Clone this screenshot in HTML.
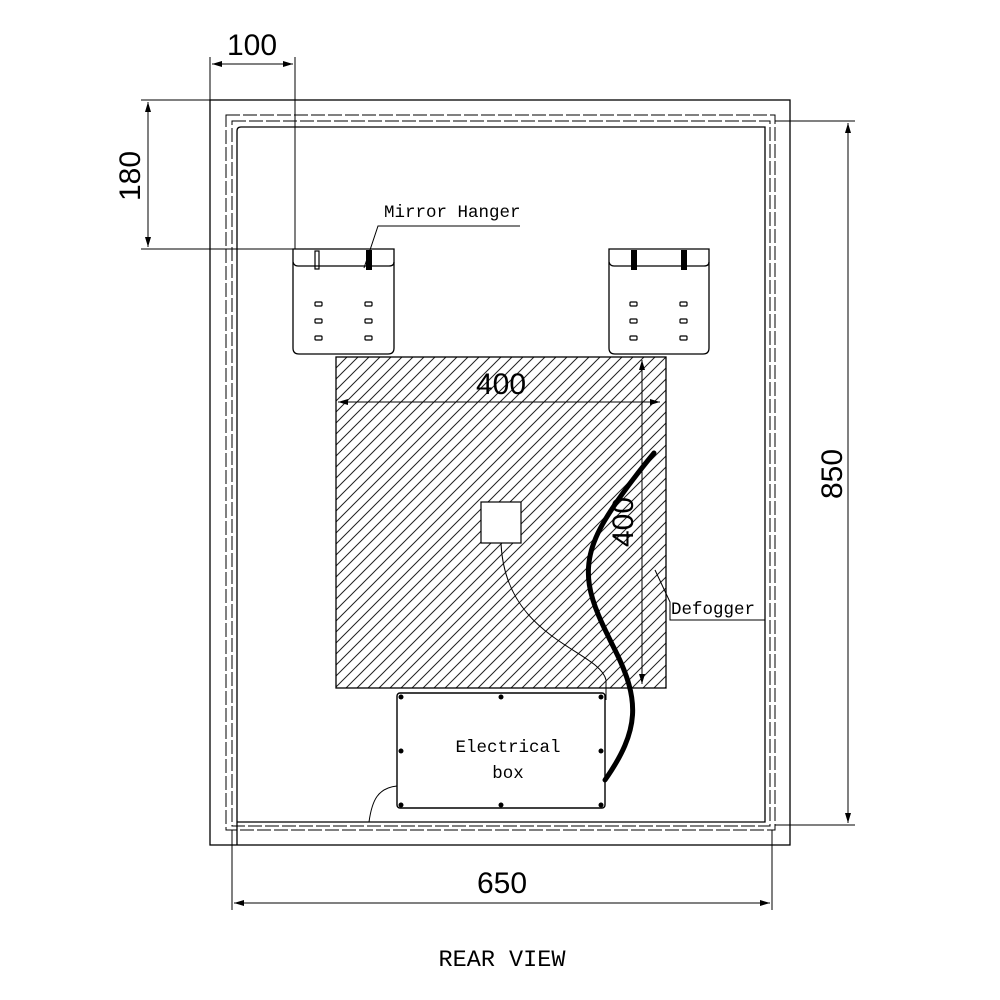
<!DOCTYPE html>
<html><head><style>body{margin:0;background:#fff}svg{display:block}</style></head><body>
<svg width="1000" height="1000" viewBox="0 0 1000 1000" xmlns="http://www.w3.org/2000/svg" font-family="Liberation Sans, sans-serif">
<defs>
<pattern id="h" width="11" height="11" patternUnits="userSpaceOnUse">
<path d="M-1,12 L12,-1 M-6,6 L6,-6 M5,17 L17,5" stroke="#222" stroke-width="1"/>
</pattern>
<marker id="a" viewBox="0 0 10 6" refX="10" refY="3" markerWidth="16" markerHeight="6" orient="auto-start-reverse" markerUnits="userSpaceOnUse"><path d="M0,0 L10,3 L0,6z" fill="#000"/></marker>
</defs>
<g fill="none" stroke="#000" stroke-width="1.3">
<rect x="210" y="100" width="580" height="745"/>
<path d="M237,845 V131 Q237,127 241,127 H765 V822 H237" />
<rect x="226" y="115" width="549" height="715" stroke-dasharray="14,3" stroke-width="1"/>
<rect x="232" y="121" width="538" height="705" stroke-dasharray="14,3" stroke-width="1"/>
<path d="M293,249 H394 V348 Q394,354 388,354 H299 Q293,354 293,348 Z"/>
<path d="M293,262 Q294,266 298,266 H389 Q394,266 394,262"/>
<path d="M609,249 H709 V348 Q709,354 703,354 H615 Q609,354 609,348 Z"/>
<path d="M609,262 Q610,266 614,266 H704 Q709,266 709,262"/>
</g>
<g stroke="#000" stroke-width="1.2" fill="none">
<rect x="315" y="251" width="4" height="18"/>
<g fill="#fff"><rect x="315" y="302" width="7" height="4" rx="1"/><rect x="315" y="319" width="7" height="4" rx="1"/><rect x="315" y="336" width="7" height="4" rx="1"/>
<rect x="365" y="302" width="7" height="4" rx="1"/><rect x="365" y="319" width="7" height="4" rx="1"/><rect x="365" y="336" width="7" height="4" rx="1"/>
<rect x="630" y="302" width="7" height="4" rx="1"/><rect x="630" y="319" width="7" height="4" rx="1"/><rect x="630" y="336" width="7" height="4" rx="1"/>
<rect x="680" y="302" width="7" height="4" rx="1"/><rect x="680" y="319" width="7" height="4" rx="1"/><rect x="680" y="336" width="7" height="4" rx="1"/></g>
</g>
<g fill="#000"><rect x="366" y="250" width="6" height="20"/><rect x="631" y="250" width="6" height="20"/><rect x="681" y="250" width="6" height="20"/></g>
<rect x="336" y="357" width="330" height="331" fill="url(#h)" stroke="#000" stroke-width="1.3"/>
<rect x="481" y="502" width="40" height="41" fill="#fff" stroke="#000" stroke-width="1.2"/>
<path d="M501,543 C505,640 600,650 606,680 L606,700" fill="none" stroke="#000" stroke-width="1"/>
<rect x="397" y="693" width="208" height="115" rx="3" fill="#fff" stroke="#000" stroke-width="1.4"/>
<g fill="#000"><circle cx="401" cy="697" r="2.5"/><circle cx="501" cy="697" r="2.5"/><circle cx="601" cy="697" r="2.5"/>
<circle cx="401" cy="751" r="2.5"/><circle cx="601" cy="751" r="2.5"/>
<circle cx="401" cy="805" r="2.5"/><circle cx="501" cy="805" r="2.5"/><circle cx="601" cy="805" r="2.5"/></g>
<path d="M397,786 C378,788 372,800 369,822" fill="none" stroke="#000" stroke-width="1"/>
<path d="M605,780 C640,730 640,700 615,650 C590,600 575,570 605,520 C620,495 640,470 654,453" fill="none" stroke="#000" stroke-width="5" stroke-linecap="round"/>
<text x="508" y="752" font-size="17.5" text-anchor="middle" font-family="Liberation Mono, monospace">Electrical</text>
<text x="508" y="778" font-size="17.5" text-anchor="middle" font-family="Liberation Mono, monospace">box</text>
<g stroke="#000" stroke-width="1" fill="none">
<path d="M210,57 V100 M295,57 V249"/>
<path d="M212,64 H293" marker-start="url(#a)" marker-end="url(#a)"/>
<path d="M141,100 H210 M141,249 H293"/>
<path d="M148,102 V247" marker-start="url(#a)" marker-end="url(#a)"/>
<path d="M775,121 H855 M775,825 H855"/>
<path d="M848,123 V823" marker-start="url(#a)" marker-end="url(#a)"/>
<path d="M232,830 V910 M772,830 V910"/>
<path d="M234,903 H770" marker-start="url(#a)" marker-end="url(#a)"/>
<path d="M338,402 H660" marker-start="url(#a)" marker-end="url(#a)"/>
<path d="M642,360 V684" marker-start="url(#a)" marker-end="url(#a)"/>
<path d="M364,268 L378,226 H520"/>
<path d="M655,570 L670,602 V620 H765"/>
</g>
<g font-size="30" fill="#000">
<text x="252" y="55" text-anchor="middle">100</text>
<text transform="translate(140,176) rotate(-90)" text-anchor="middle">180</text>
<text transform="translate(842,474) rotate(-90)" text-anchor="middle">850</text>
<text x="502" y="893" text-anchor="middle">650</text>
<text x="501" y="394" text-anchor="middle">400</text>
<text transform="translate(633,522) rotate(-90)" text-anchor="middle">400</text>
</g>
<g font-family="Liberation Mono, monospace" font-size="17.5" fill="#000">
<text x="384" y="217">Mirror Hanger</text>
<text x="671" y="614">Defogger</text>
<text x="502" y="966" font-size="23.5" text-anchor="middle">REAR VIEW</text>
</g>
</svg>
</body></html>
